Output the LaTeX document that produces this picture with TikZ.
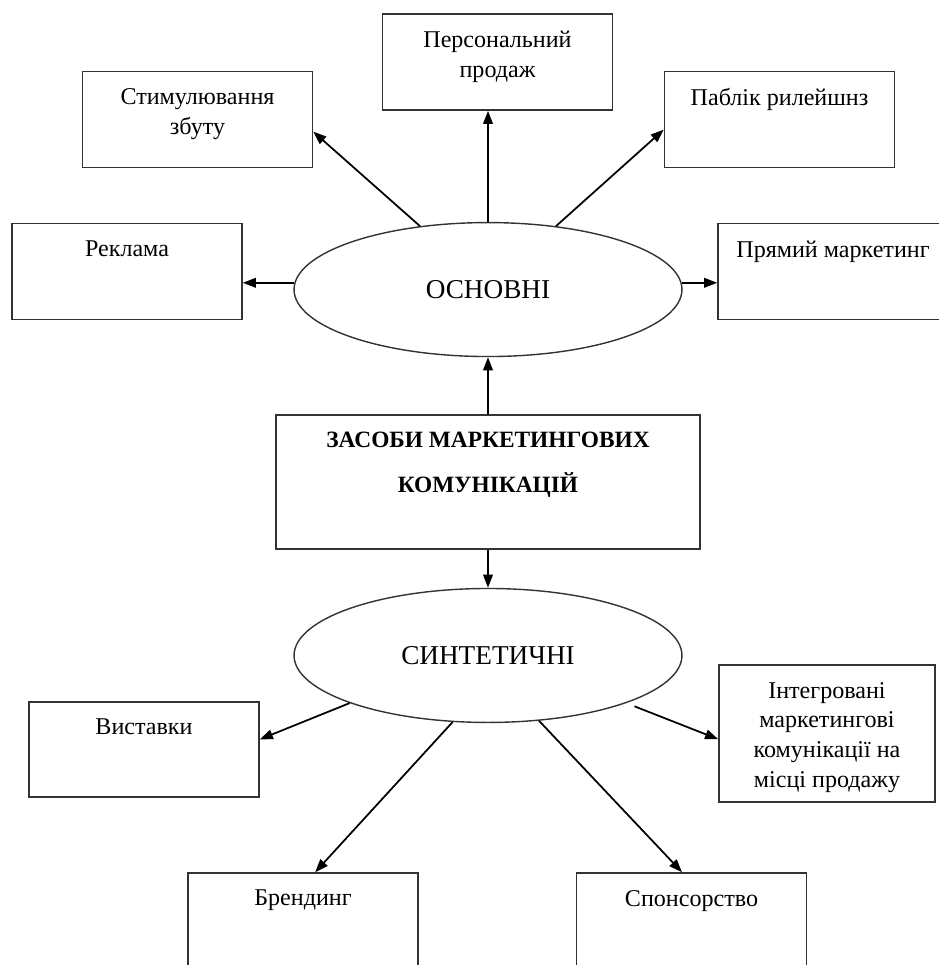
\documentclass[tikz,border=0pt]{standalone}
\usepackage{fontspec}
\setmainfont{Liberation Serif}
\usetikzlibrary{positioning, arrows.meta, shapes.geometric}

\begin{document}
\begin{tikzpicture}[
        x=0.02cm, y=0.02cm,
        font=\fontsize{13.7}{17}\selectfont,
        box/.style={draw=black!80, line width=0.9pt, rectangle, minimum width=4.6cm, minimum height=1.92cm},
        boxtext/.style={anchor=north, yshift=-0.35cm, inner sep=0pt, align=center},
        group/.style={draw=black!80, line width=0.8pt, ellipse, minimum width=7.76cm, minimum height=2.68cm, font=\fontsize{15.5}{18}\selectfont},
        arrow/.style={-{Triangle[length=7.5pt, width=5.5pt]}, line width=1pt}
    ]
    \useasboundingbox (0,0) rectangle (939,-965);

    \node[box, minimum width=8.48cm, minimum height=2.68cm,
          label={[boxtext, font=\fontsize{13.3}{25.5}\selectfont\bfseries]north:ЗАСОБИ МАРКЕТИНГОВИХ\\КОМУНІКАЦІЙ}] (Means) at (488,-482) {};

    \node[group, above=1.14cm of Means] (Basic) {ОСНОВНІ};
    \node[group, below=0.76cm of Means] (Synth) {СИНТЕТИЧНІ};

    \node[box, label={[boxtext]north:Персональний\\продаж}] (Personal) at (497.5,-62) {};
    \node[box, label={[boxtext]north:Стимулювання\\збуту}] (Promo) at (197.5,-119.5) {};
    \node[box, label={[boxtext]north:Паблік рилейшнз}] (PR) at (779.5,-119.5) {};
    \node[box, label={[boxtext]north:Реклама}] (Ads) at (127,-271.5) {};
    \node[box, label={[boxtext]north:Прямий маркетинг}] (Direct) at (833,-271.5) {};

    \node[box, minimum height=1.9cm, label={[boxtext]north:Виставки}] (Expo) at (144,-749.5) {};
    \node[box, minimum width=4.32cm, minimum height=2.74cm,
          label={[boxtext]north:Інтегровані\\маркетингові\\комунікації на\\місці продажу}] (IMC) at (827,-733.5) {};
    \node[box, label={[boxtext]north:Брендинг}] (Brand) at (303,-921) {};
    \node[box, label={[boxtext]north:Спонсорство}] (Sponsor) at (691.5,-921) {};

    \draw[arrow] (Means) -- (Basic);
    \draw[arrow] (Means) -- (Synth);

    \draw[arrow] (Basic.90) -- (Personal.259);
    \draw[arrow] (Basic.137) -- (Promo.-6);
    \draw[arrow] (Basic.43) -- (PR.185);
    \draw[arrow] (Basic.178) -- (Basic.178 -| Ads.east);
    \draw[arrow] (Basic.2) -- (Basic.2 -| Direct.west);

    \draw[arrow] (Synth.199) -- (Expo.5);
    \draw[arrow, shorten <=5pt] (Synth.-19) -- (IMC.183);
    \draw[arrow] (Synth.242) -- (Brand.76);
    \draw[arrow] (Synth.-52) -- (Sponsor.101);

    \end{tikzpicture}
\end{document}
